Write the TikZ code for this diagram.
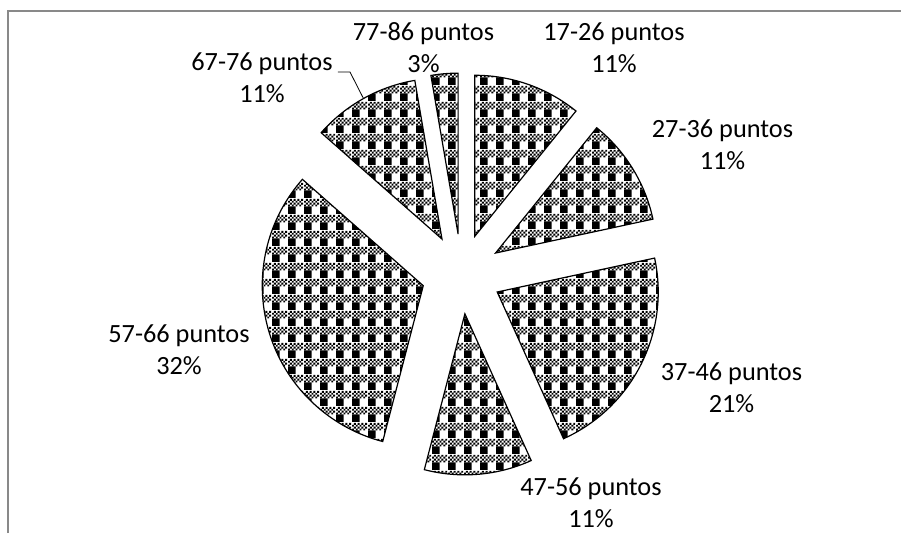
\documentclass[tikz,border=0pt]{standalone}
\usepackage{fontspec}
\setmainfont{Carlito}
\usetikzlibrary{calc,patterns.meta}
\definecolor{FrameClr}{RGB}{137,137,137}
\definecolor{SliceClr}{RGB}{0,0,0}

\tikzdeclarepattern{
  name=plaid,
  type=uncolored,
  bounding box={(0pt,0pt) and (16pt,16pt)},
  tile size={(16pt,16pt)},
  code={
    \fill (0pt,0pt) rectangle (8pt,8pt);
    \foreach \y in {8,12}
      \foreach \x in {0,4,8,12}
        {\fill (\x pt,\y pt) rectangle +(2pt,2pt) +(2pt,2pt) rectangle +(4pt,4pt);}
  }
}

\tikzset{
  slice/.style={draw=SliceClr,line width=1.2pt,pattern=plaid,pattern color=SliceClr},
  lbl/.style={align=center,inner sep=0pt,font=\fontsize{26.3pt}{32pt}\selectfont},
  leader/.style={draw=black,line width=0.8pt},
  frame/.style={draw=FrameClr,line width=1.6pt}
}

\begin{document}
\begin{tikzpicture}[x=1pt,y=1pt]
\useasboundingbox (0,0) rectangle (901,533);

\draw[frame] (8,0) -- (8,522) -- (901,522);

\coordinate (C) at (461.5,259);

% Exploded slices (start angle / end angle).
\foreach \a/\b in {-65.676/12.162,12.162/51.081,51.081/90,90/99.730,99.730/138.649,138.649/255.405,255.405/294.324}{
  \pgfmathsetmacro\m{(\a+\b)/2}
  \draw[slice] ($(C)+(\m:40)$) -- ++(\a:161) arc[start angle=\a,end angle=\b,radius=161] -- cycle;
}

% Labels.
\node[lbl] (l1726) at (614,485.3) {17-26 puntos\\11\%};
\node[lbl] (l2736) at (722.5,388.3) {27-36 puntos\\11\%};
\node[lbl] (l3746) at (731.5,145.3) {37-46 puntos\\21\%};
\node[lbl] (l4756) at (591,30.3) {47-56 puntos\\11\%};
\node[lbl] (l5766) at (179,183.3) {57-66 puntos\\32\%};
\node[lbl] (l6776) at (262,455.3) {67-76 puntos\\11\%};
\node[lbl] (l7786) at (423.5,485.3) {77-86 puntos\\3\%};

% Leader line.
\coordinate (k6776) at (350,461);
\coordinate (m6776) at ($(C)+(119.19:201)$);
\draw[leader] ([xshift=5pt]l6776.east |- k6776) -- (k6776) -- (m6776);

\end{tikzpicture}
\end{document}
